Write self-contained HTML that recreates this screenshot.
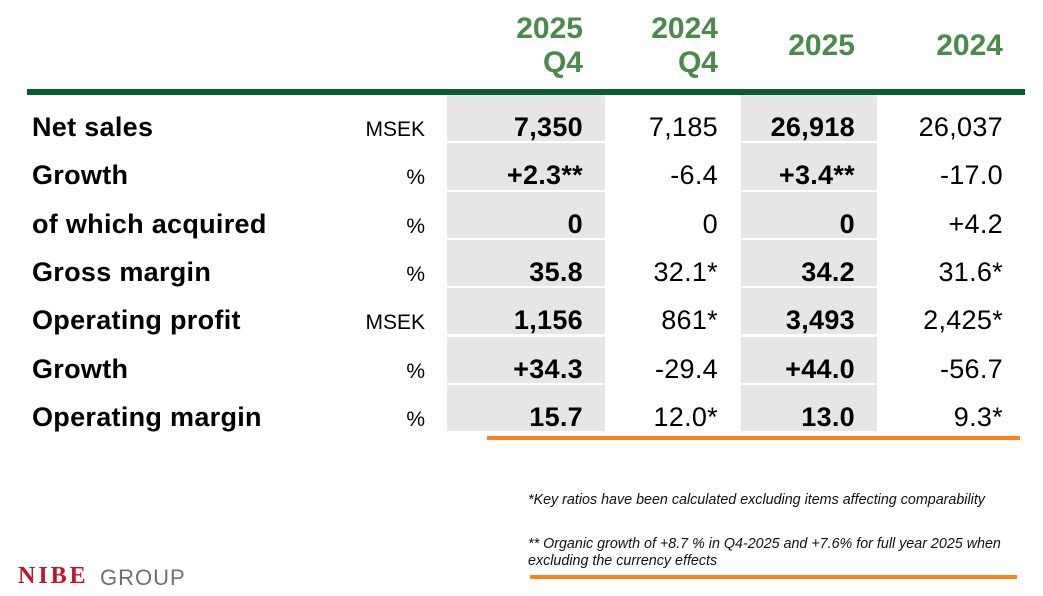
<!DOCTYPE html>
<html><head><meta charset="utf-8"><style>
body{margin:0;width:1043px;height:596px;background:#fff;position:relative;overflow:hidden;font-family:"Liberation Sans",sans-serif;color:#000}
.a{position:absolute;white-space:nowrap}
.shade{position:absolute;background:#e6e6e6}
.lbl{font-weight:bold;font-size:27px;left:32px;letter-spacing:0.3px}
.unit{font-size:21px;text-align:right;width:100px;left:325px}
.v{font-size:27px;text-align:right;width:150px;letter-spacing:0.3px}
.b{font-weight:bold}
.h{color:#4a8a4a;font-weight:bold;font-size:30px;text-align:right;width:150px;line-height:34px}
.fn{font-style:italic;font-size:14.3px;color:#111;left:528px}
</style></head><body>
<div class="a h" style="left:433px;top:12px">2025<br>Q4</div>
<div class="a h" style="left:568px;top:12px">2024<br>Q4</div>
<div class="a h" style="left:705px;top:29px">2025</div>
<div class="a h" style="left:853px;top:29px">2024</div>
<div class="a" style="left:27px;top:89px;width:998px;height:6px;background:#085c32"></div>
<div id="rows"></div>
<div class="a" style="left:487px;top:436px;width:533px;height:4px;background:#f7861e"></div>
<div class="a fn" style="top:492px">*Key ratios have been calculated excluding items affecting comparability</div>
<div class="a fn" style="top:536px;line-height:17px">** Organic growth of +8.7 % in Q4-2025 and +7.6% for full year 2025 when<br>excluding the currency effects</div>
<div class="a" style="left:530px;top:575px;width:487px;height:4px;background:#f7861e"></div>
<div class="a" style="left:18px;top:563px;font-family:'Liberation Serif',serif;font-weight:bold;font-size:24px;color:#c8102e;letter-spacing:3px">NIBE</div>
<div class="a" style="left:100px;top:565px;font-size:22px;color:#707070;letter-spacing:1px">GROUP</div>
<script>
const labels=["Net sales","Growth","of which acquired","Gross margin","Operating profit","Growth","Operating margin"];
const units=["MSEK","%","%","%","MSEK","%","%"];
const q42025=["7,350","+2.3**","0","35.8","1,156","+34.3","15.7"];
const q42024=["7,185","-6.4","0","32.1*","861*","-29.4","12.0*"];
const fy2025=["26,918","+3.4**","0","34.2","3,493","+44.0","13.0"];
const fy2024=["26,037","-17.0","+4.2","31.6*","2,425*","-56.7","9.3*"];
const root=document.getElementById('rows');
const top0=95,pitch=48.3;
function add(cls,style,text,name){const d=document.createElement('div');d.className='a '+cls;d.style.cssText=style;d.textContent=text;


root.appendChild(d);}
labels.forEach((l,i)=>{
  const y=top0+i*pitch;
  add('shade',`left:447px;top:${y}px;width:158px;height:${pitch-2}px`,'','shade-q4-2025-row-'+i);
  add('shade',`left:741px;top:${y}px;width:136px;height:${pitch-2}px`,'','shade-2025-row-'+i);
  const ty=y+17;
  add('lbl',`top:${ty}px`,l,'row-label-'+i);
  add('unit',`top:${ty+6}px`,units[i],'row-unit-'+i);
  add('v b',`left:433px;top:${ty}px`,q42025[i],'value-q4-2025-row-'+i);
  add('v',`left:568px;top:${ty}px`,q42024[i],'value-q4-2024-row-'+i);
  add('v b',`left:705px;top:${ty}px`,fy2025[i],'value-2025-row-'+i);
  add('v',`left:853px;top:${ty}px`,fy2024[i],'value-2024-row-'+i);
});
</script>
</body></html>
